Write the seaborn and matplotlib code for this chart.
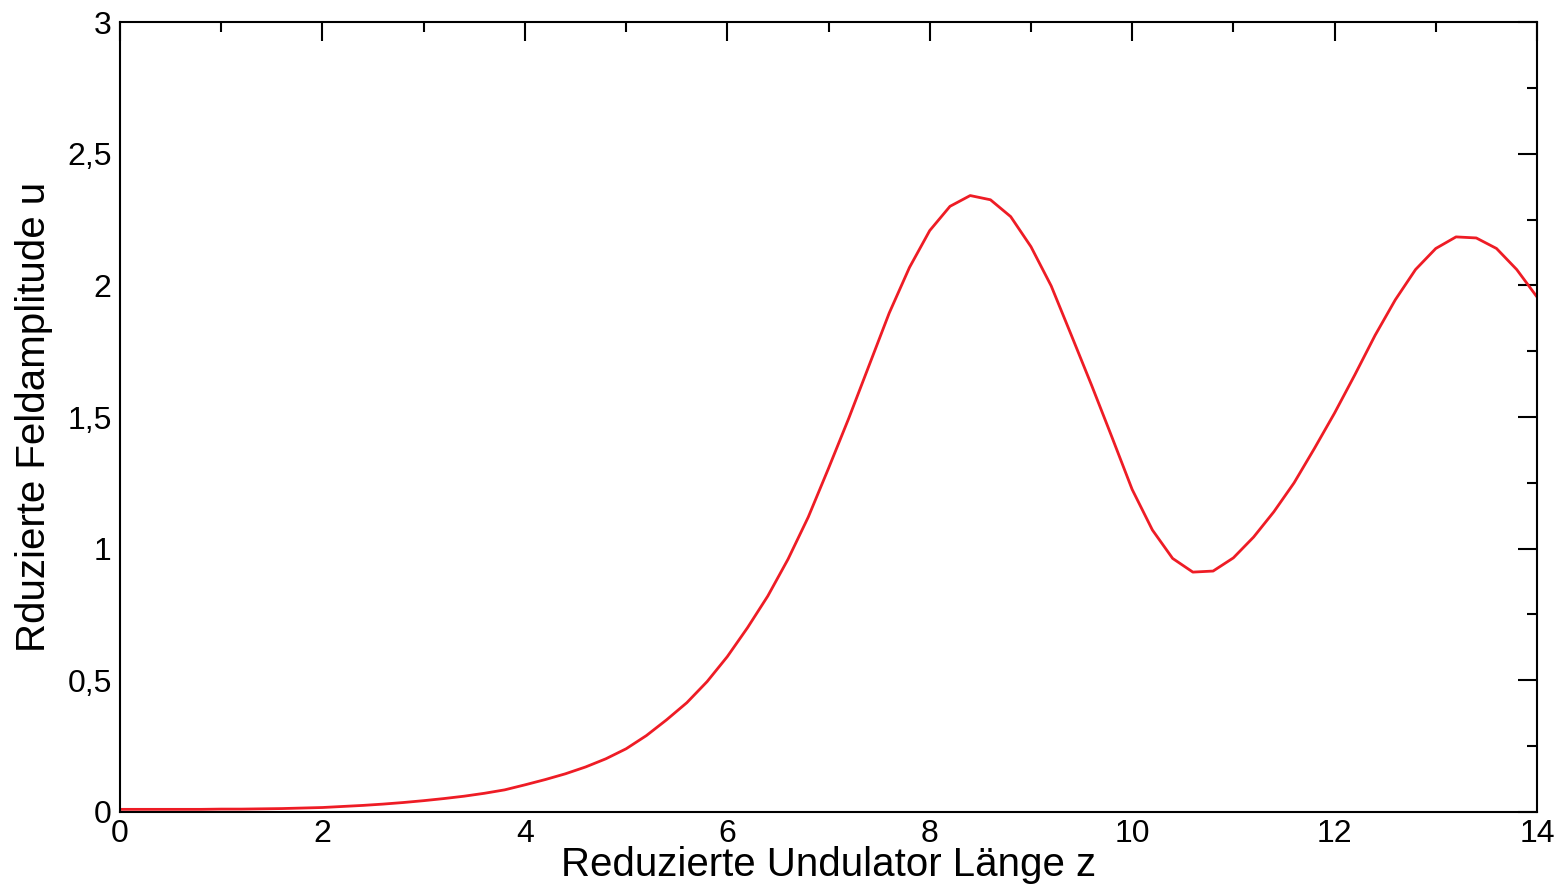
import matplotlib
matplotlib.use("Agg")
import matplotlib.pyplot as plt
import seaborn as sns
import numpy as np
import pandas as pd
from matplotlib.ticker import MultipleLocator

# sampled every 0.2 in z
z = np.round(np.arange(0, 14.01, 0.2), 1)
u = [0.010, 0.010, 0.010, 0.010, 0.010, 0.011, 0.011, 0.012, 0.013, 0.015,
     0.017, 0.021, 0.025, 0.030, 0.036, 0.043, 0.051, 0.060, 0.071, 0.084,
     0.103, 0.123, 0.145, 0.171, 0.202, 0.240, 0.290, 0.350, 0.415, 0.495,
     0.590, 0.700, 0.820, 0.960, 1.120, 1.305, 1.495, 1.695, 1.895, 2.068,
     2.208, 2.300, 2.341, 2.325, 2.261, 2.147, 1.998, 1.810, 1.620, 1.424,
     1.225, 1.071, 0.963, 0.911, 0.915, 0.965, 1.044, 1.140, 1.250, 1.380,
     1.515, 1.660, 1.810, 1.945, 2.060, 2.140, 2.184, 2.180, 2.140, 2.060,
     1.956]

x_ticks = [0, 2, 4, 6, 8, 10, 12, 14]
x_labels = ['0', '2', '4', '6', '8', '10', '12', '14']
y_ticks = [0, 0.5, 1, 1.5, 2, 2.5, 3]
y_labels = ['0', '0,5', '1', '1,5', '2', '2,5', '3']

df = pd.DataFrame({'z': z, 'u': u})

sns.set_style('white')
plt.rcParams['font.family'] = ['Liberation Sans', 'DejaVu Sans']
plt.rcParams['text.color'] = 'black'
plt.rcParams['axes.labelcolor'] = 'black'

fig = plt.figure(figsize=(15.65, 8.92), dpi=100)
ax = fig.add_axes([0.0767, 0.0897, 0.9054, 0.8856])

sns.lineplot(data=df, x='z', y='u', color='#ee1c25', linewidth=2.0, ax=ax)

ax.set_xlim(0, 14)
ax.set_ylim(0, 3)
ax.set_xticks(x_ticks)
ax.set_xticklabels(x_labels)
ax.set_yticks(y_ticks)
ax.set_yticklabels(y_labels)
ax.xaxis.set_minor_locator(MultipleLocator(1))
ax.yaxis.set_minor_locator(MultipleLocator(0.25))

ax.tick_params(which='both', direction='in', top=True, right=True,
               colors='black', labelcolor='black', labelsize=23, width=1.5)
ax.tick_params(which='major', length=13.5)
ax.tick_params(which='minor', length=7)
ax.tick_params(axis='x', which='major', pad=5)
ax.tick_params(axis='y', which='major', pad=6)

for s in ax.spines.values():
    s.set_color('black')
    s.set_linewidth(1.5)

ax.set_xlabel('Reduzierte Undulator Länge z', fontsize=29, labelpad=-2)
ax.set_ylabel('Rduzierte Feldamplitude u', fontsize=29, labelpad=10)

fig.savefig('out.png', dpi=100)
